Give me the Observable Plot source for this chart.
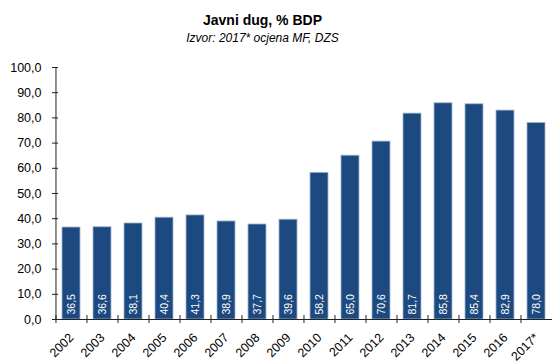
<!DOCTYPE html>
<html><head><meta charset="utf-8">
<script src="https://cdn.jsdelivr.net/npm/d3@7"></script>
<script src="https://cdn.jsdelivr.net/npm/@observablehq/plot@0.6"></script>
<style>
body{margin:0;background:#fff;font-family:"Liberation Sans",Arial,sans-serif;}
#head{width:553px;height:50px;text-align:center;box-sizing:border-box;padding:12px 28px 0 0;color:#000}
#head .t{font-weight:bold;font-size:14px;line-height:17px}
#head .s{font-style:italic;font-size:12px;line-height:15px;margin-top:2px}
#chart svg{display:block}
</style></head>
<body>
<div id="head"><div class="t">Javni dug, % BDP</div><div class="s">Izvor: 2017* ocjena MF, DZS</div></div>
<div id="chart"></div>
<script>
const years = ["2002","2003","2004","2005","2006","2007","2008","2009","2010","2011","2012","2013","2014","2015","2016","2017*"];
const values = [36.5,36.6,38.1,40.4,41.3,38.9,37.7,39.6,58.2,65.0,70.6,81.7,85.8,85.4,82.9,78.0];
const yTicks = [0,10,20,30,40,50,60,70,80,90,100];

const data = years.map((year, i) => ({year, value: values[i]}));
const W = 553, H = 314, mL = 55, mR = 1, mT = 17, mB = 45;
const innerW = W - mL - mR, innerH = H - mT - mB;
const step = innerW / years.length;
const fmt = d => d3.format(".1f")(d).replace(".", ",");

const chart = Plot.plot({
  width: W, height: H,
  marginLeft: mL, marginRight: mR, marginTop: mT, marginBottom: mB,
  style: {fontFamily: "Liberation Sans, Arial, sans-serif", fontSize: "12px", color: "#000", background: "#fff"},
  x: {domain: years, paddingInner: 0.42, paddingOuter: 0.21, axis: null},
  y: {domain: [0, 100], axis: null},
  marks: [
    Plot.barY(data, {x: "year", y: "value", fill: "#1c4a80", stroke: "#9fb4d0", strokeWidth: 0.8}),
    Plot.text(data, {x: "year", y: 0, text: d => fmt(d.value), rotate: -90, textAnchor: "start", dy: -5, fill: "white", fontSize: 10.5}),
    Plot.ruleY([0], {stroke: "#222"}),
    Plot.ruleX([years[0]], {dx: -step / 2, y1: 0, y2: 100, stroke: "#222"}),
    Plot.tickX(years, {x: d => d, dx: -step / 2, insetTop: innerH - 4, insetBottom: -4, stroke: "#222"}),
    Plot.tickY(yTicks, {y: d => d, insetLeft: -3, insetRight: innerW - 3, stroke: "#222"}),
    Plot.axisY({ticks: yTicks, tickSize: 0, tickPadding: 14, tickFormat: fmt, fontSize: 12.5, label: null}),
    Plot.axisX({tickSize: 0, tickRotate: -45, tickPadding: 16, fontSize: 12.5, label: null})
  ]
});
document.getElementById("chart").appendChild(chart);
</script>
</body></html>
